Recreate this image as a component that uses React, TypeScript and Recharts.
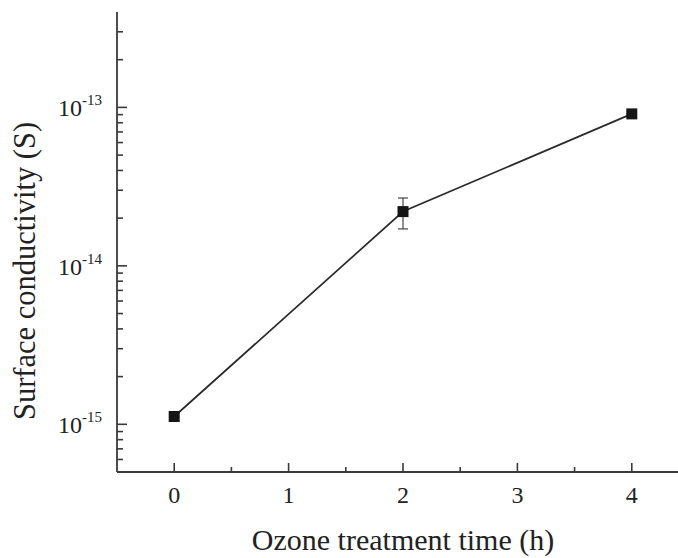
import React from 'react'
import {
  ComposedChart,
  Line,
  XAxis,
  YAxis,
  ErrorBar,
} from 'recharts'

const TIMES = [0, 2, 4]
const CONDUCTIVITY = [1.12e-15, 2.2e-14, 9.1e-14]
const ERR_LOW = [0, 0.49e-14, 0]
const ERR_HIGH = [0, 0.48e-14, 0]

const X_TICKS = [0, 0.5, 1, 1.5, 2, 2.5, 3, 3.5, 4]
const Y_TICKS = [
  6e-16, 7e-16, 8e-16, 9e-16,
  1e-15, 2e-15, 3e-15, 4e-15, 5e-15, 6e-15, 7e-15, 8e-15, 9e-15,
  1e-14, 2e-14, 3e-14, 4e-14, 5e-14, 6e-14, 7e-14, 8e-14, 9e-14,
  1e-13, 2e-13, 3e-13,
]
const Y_MAJOR = [1e-15, 1e-14, 1e-13]
const Y_MAJOR_LABELS = ['-15', '-14', '-13']

const data = TIMES.map((t, i) => ({
  t,
  s: CONDUCTIVITY[i],
  err: [ERR_LOW[i], ERR_HIGH[i]],
}))

const FONT = '"Liberation Serif", "DejaVu Serif", serif'
const INK = '#222'
const AXIS = '#3a3a3a'

const XTick = ({ x, y, payload }: any) => {
  const v = payload.value
  const major = Number.isInteger(v)
  return (
    <g>
      <line x1={x} y1={y} x2={x} y2={y - (major ? 9 : 5)} stroke={AXIS} strokeWidth={1.6} />
      {major && (
        <text x={x} y={y + 31} textAnchor="middle" fontSize={24} fontFamily={FONT} fill={INK}>
          {v}
        </text>
      )}
    </g>
  )
}

const YTick = ({ x, y, payload }: any) => {
  const v = payload.value
  const idx = Y_MAJOR.findIndex(m => Math.abs(Math.log10(m) - Math.log10(v)) < 1e-6)
  const major = idx >= 0
  return (
    <g>
      <line x1={x} y1={y} x2={x + (major ? 10 : 6)} y2={y} stroke={AXIS} strokeWidth={1.6} />
      {major && (
        <g fontFamily={FONT} fill={INK}>
          <text x={x - 35} y={y + 9} textAnchor="end" fontSize={24}>10</text>
          <text x={x - 35} y={y - 2} textAnchor="start" fontSize={15}>{Y_MAJOR_LABELS[idx]}</text>
        </g>
      )}
    </g>
  )
}

const SquareDot = ({ cx, cy, index }: any) => (
  <rect key={index} x={cx - 5.5} y={cy - 5.5} width={11} height={11} fill="#151515" />
)

export default function App() {
  return (
    <div
      style={{
        position: 'absolute',
        left: 0,
        top: 0,
        width: 678,
        height: 558,
        overflow: 'hidden',
        background: '#fff',
      }}
    >
      <ComposedChart width={700} height={558} data={data} margin={{ top: 12, right: 11, bottom: 0, left: 10 }}>
        <XAxis
          dataKey="t"
          type="number"
          domain={[-0.5, 4.5]}
          ticks={X_TICKS}
          interval={0}
          height={86}
          tickSize={0}
          tickMargin={0}
          tickLine={false}
          tick={(p: any) => <XTick {...p} />}
          axisLine={{ stroke: AXIS, strokeWidth: 1.8 }}
          allowDataOverflow
          label={{
            content: ({ viewBox }: any) => (
              <text
                x={viewBox.x + viewBox.width / 2}
                y={viewBox.y + 78}
                textAnchor="middle"
                fontSize={30}
                fontFamily={FONT}
                fill={INK}
              >
                Ozone treatment time (h)
              </text>
            ),
          }}
        />
        <XAxis
          xAxisId="top"
          orientation="top"
          type="number"
          domain={[-0.5, 4.5]}
          height={0}
          tick={false}
          tickLine={false}
          axisLine={{ stroke: AXIS, strokeWidth: 1.8 }}
        />
        <YAxis
          type="number"
          scale="log"
          domain={[5e-16, 4e-13]}
          allowDataOverflow
          ticks={Y_TICKS}
          interval={0}
          width={107}
          tickSize={0}
          tickMargin={0}
          tickLine={false}
          tick={(p: any) => <YTick {...p} />}
          axisLine={{ stroke: AXIS, strokeWidth: 1.8 }}
          label={{
            content: ({ viewBox }: any) => {
              const cx = viewBox.x + 25
              const cy = 271
              return (
                <text
                  x={cx}
                  y={cy}
                  transform={`rotate(-90 ${cx} ${cy})`}
                  textAnchor="middle"
                  fontSize={30.5}
                  fontFamily={FONT}
                  fill={INK}
                >
                  Surface conductivity (S)
                </text>
              )
            },
          }}
        />
        <Line
          dataKey="s"
          type="linear"
          stroke="#2a2a2a"
          strokeWidth={1.7}
          dot={(p: any) => <SquareDot {...p} />}
          activeDot={false}
          isAnimationActive={false}
        >
          <ErrorBar dataKey="err" width={5} stroke="#444" strokeWidth={1.2} direction="y" />
        </Line>
      </ComposedChart>
    </div>
  )
}
